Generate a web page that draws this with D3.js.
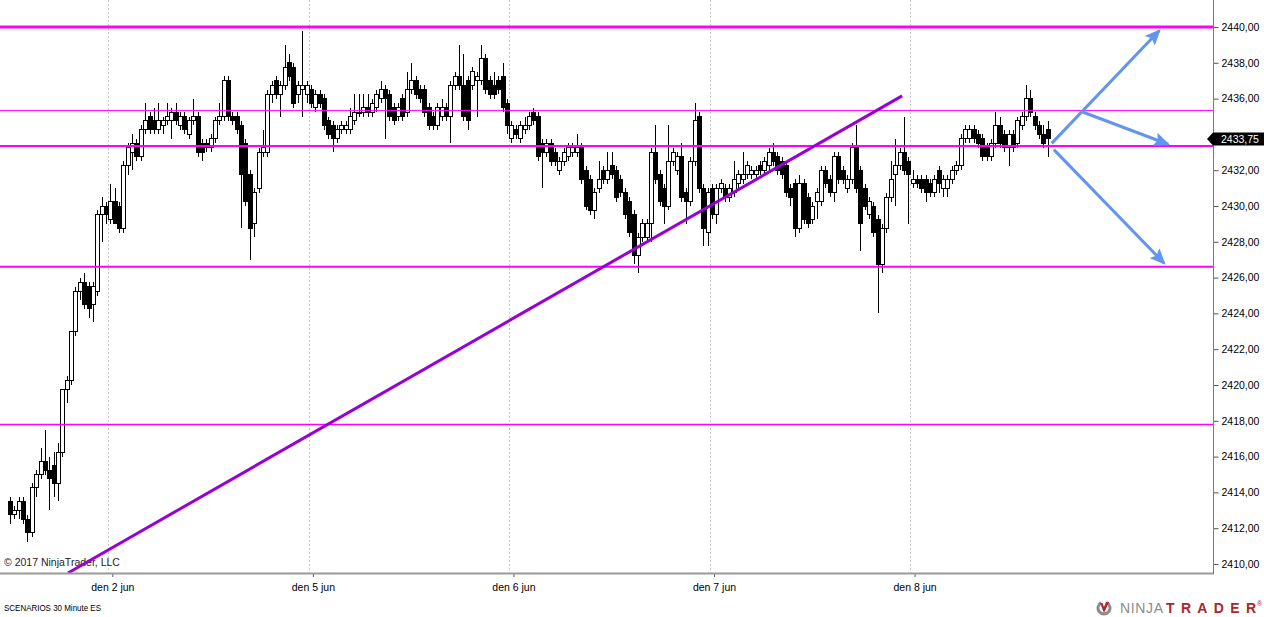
<!DOCTYPE html>
<html>
<head>
<meta charset="utf-8">
<script src="https://cdn.jsdelivr.net/npm/d3@7"></script>
<style>
  body { margin: 0; background: #fff; }
  svg { display: block; }
</style>
</head>
<body>
<svg id="chart" width="1264" height="617"></svg>
<script>

// 30 minute ES bars (bar index = position from the left)
var barOpen = [
  2413.5, 2412.75, 2413.0, 2413.5, 2412.5, 2411.75, 2414.25, 2415.0, 2415.75, 2415.25,
  2415.5, 2414.5, 2416.25, 2419.75, 2420.25, 2423.0, 2425.25, 2425.75, 2425.5, 2424.5,
  2425.25, 2429.5, 2430.0, 2429.25, 2430.25, 2430.0, 2428.75, 2432.25, 2433.0, 2433.5,
  2432.75, 2434.25, 2435.0, 2434.75, 2434.25, 2434.5, 2434.75, 2434.75, 2435.25, 2434.5,
  2435.0, 2434.0, 2434.75, 2435.0, 2433.5, 2433.5, 2433.25, 2433.75, 2434.75, 2435.0,
  2437.0, 2435.0, 2435.0, 2434.5, 2433.5, 2431.75, 2429.0, 2431.0, 2433.0, 2433.0,
  2436.25, 2437.0, 2436.25, 2436.75, 2438.0, 2437.75, 2436.25, 2436.5, 2436.25, 2436.5,
  2435.5, 2436.25, 2436.0, 2434.75, 2434.5, 2433.75, 2434.25, 2434.25, 2434.25, 2434.75,
  2435.25, 2435.25, 2435.5, 2435.25, 2435.5, 2436.0, 2436.5, 2436.25, 2435.5, 2435.0,
  2436.0, 2435.25, 2436.5, 2437.0, 2436.5, 2436.5, 2435.5, 2435.0, 2434.5, 2435.0,
  2435.5, 2435.0, 2436.75, 2437.25, 2436.75, 2437.0, 2436.75, 2437.0, 2437.0, 2438.25,
  2437.0, 2436.75, 2437.0, 2437.25, 2435.75, 2433.75, 2434.25, 2433.75, 2434.25, 2434.5,
  2435.25, 2435.0, 2433.5, 2433.0, 2433.5, 2433.0, 2432.0, 2432.5, 2432.75, 2433.0,
  2433.0, 2433.25, 2432.0, 2431.5, 2429.75, 2431.0, 2432.0, 2431.5, 2432.25, 2432.0,
  2431.5, 2430.75, 2430.25, 2429.5, 2427.25, 2428.25, 2428.25, 2429.0, 2433.0, 2431.75,
  2431.0, 2430.0, 2432.5, 2432.0, 2432.75, 2430.75, 2430.25, 2432.5, 2435.0, 2431.0,
  2428.5, 2431.0, 2429.5, 2431.0, 2431.0, 2430.5, 2430.75, 2431.25, 2431.5, 2431.75,
  2431.75, 2431.75, 2432.25, 2432.0, 2432.25, 2433.0, 2432.75, 2432.5, 2432.25, 2431.0,
  2431.25, 2428.75, 2431.25, 2430.5, 2429.25, 2430.25, 2430.25, 2432.0, 2431.5, 2430.75,
  2432.75, 2432.0, 2431.0, 2431.5, 2433.25, 2432.0, 2431.0, 2429.5, 2430.0, 2429.25,
  2426.75, 2428.75, 2430.5, 2431.75, 2432.25, 2433.0, 2432.5, 2431.25, 2431.5, 2431.5,
  2431.5, 2431.25, 2430.75, 2432.0, 2431.0, 2431.0, 2431.5, 2432.0, 2432.25, 2433.75,
  2433.75, 2434.25, 2434.0, 2433.75, 2433.25, 2432.75, 2433.5, 2434.5, 2434.0, 2433.25,
  2434.0, 2433.5, 2434.5, 2435.0, 2436.0, 2435.0, 2434.5, 2434.0, 2434.25
];
var barHigh = [
  2413.75, 2413.25, 2413.75, 2413.75, 2412.75, 2414.5, 2415.25, 2416.5, 2417.5, 2416.0,
  2416.25, 2416.75, 2419.75, 2420.5, 2423.0, 2425.5, 2426.0, 2426.25, 2425.75, 2425.75,
  2429.75, 2430.5, 2430.25, 2431.25, 2431.0, 2430.25, 2432.5, 2433.5, 2434.0, 2433.75,
  2434.5, 2435.75, 2435.25, 2435.5, 2435.75, 2435.0, 2435.75, 2435.5, 2435.75, 2435.25,
  2435.25, 2435.0, 2436.0, 2435.25, 2433.75, 2433.75, 2434.0, 2435.0, 2435.75, 2437.25,
  2437.25, 2435.25, 2435.25, 2434.75, 2433.75, 2432.0, 2431.0, 2433.25, 2434.25, 2436.5,
  2437.0, 2437.25, 2437.0, 2439.0, 2438.5, 2438.0, 2437.0, 2439.75, 2437.0, 2436.75,
  2436.5, 2436.5, 2436.25, 2435.0, 2434.75, 2434.5, 2434.75, 2434.75, 2435.5, 2436.25,
  2436.25, 2436.25, 2436.25, 2436.0, 2436.5, 2437.0, 2436.75, 2436.5, 2435.75, 2435.75,
  2436.25, 2437.5, 2438.0, 2437.25, 2436.75, 2436.75, 2435.75, 2435.25, 2435.75, 2436.0,
  2435.75, 2437.0, 2437.5, 2439.0, 2438.5, 2437.25, 2437.75, 2437.5, 2439.0, 2438.5,
  2437.25, 2437.5, 2437.25, 2438.0, 2436.0, 2434.75, 2434.5, 2434.75, 2435.0, 2435.25,
  2435.5, 2435.25, 2433.75, 2433.75, 2433.75, 2433.25, 2432.75, 2433.25, 2433.5, 2433.5,
  2434.0, 2433.5, 2432.25, 2431.75, 2431.0, 2432.5, 2432.25, 2433.0, 2433.0, 2432.25,
  2431.75, 2431.0, 2430.5, 2429.75, 2428.5, 2429.25, 2429.25, 2433.25, 2434.5, 2432.0,
  2431.25, 2434.5, 2433.25, 2433.0, 2433.5, 2431.0, 2432.75, 2435.75, 2435.25, 2431.25,
  2431.0, 2431.25, 2431.25, 2431.5, 2431.25, 2431.25, 2432.5, 2432.0, 2433.0, 2432.5,
  2432.25, 2432.25, 2432.5, 2432.75, 2433.25, 2433.5, 2433.0, 2432.75, 2432.5, 2431.25,
  2431.5, 2431.75, 2431.5, 2430.75, 2430.25, 2431.0, 2432.25, 2432.25, 2431.75, 2433.0,
  2433.0, 2432.25, 2431.75, 2433.5, 2434.5, 2432.25, 2431.25, 2430.5, 2430.25, 2429.5,
  2429.0, 2430.75, 2432.5, 2433.75, 2433.25, 2435.0, 2432.75, 2432.0, 2431.75, 2431.75,
  2431.75, 2431.5, 2431.75, 2432.25, 2431.75, 2431.75, 2432.25, 2432.5, 2434.0, 2434.5,
  2434.5, 2434.5, 2434.25, 2434.0, 2433.5, 2433.75, 2435.25, 2435.0, 2434.25, 2434.25,
  2434.25, 2435.0, 2435.25, 2436.75, 2436.5, 2435.25, 2434.75, 2434.5, 2434.75
];
var barLow = [
  2412.25, 2412.5, 2412.5, 2412.25, 2411.25, 2411.5, 2413.75, 2414.75, 2415.0, 2413.0,
  2413.75, 2413.5, 2416.0, 2419.0, 2420.0, 2422.75, 2424.75, 2424.25, 2423.75, 2423.5,
  2425.0, 2428.0, 2429.0, 2429.0, 2429.0, 2428.5, 2428.5, 2431.75, 2432.0, 2432.5,
  2432.5, 2434.0, 2434.0, 2434.0, 2434.0, 2434.0, 2434.5, 2433.75, 2434.5, 2434.25,
  2434.0, 2433.75, 2434.5, 2432.75, 2432.5, 2433.0, 2433.0, 2433.5, 2434.5, 2434.75,
  2434.75, 2434.5, 2434.0, 2428.75, 2430.0, 2427.0, 2428.25, 2430.75, 2432.75, 2432.75,
  2435.75, 2436.0, 2435.0, 2436.5, 2437.0, 2435.5, 2435.75, 2435.0, 2435.75, 2435.5,
  2435.25, 2435.5, 2434.25, 2433.75, 2433.0, 2433.5, 2434.0, 2434.0, 2434.0, 2434.5,
  2435.0, 2435.0, 2435.0, 2435.0, 2435.25, 2435.75, 2433.75, 2434.75, 2434.5, 2434.75,
  2434.75, 2435.0, 2436.25, 2436.0, 2435.75, 2435.0, 2434.25, 2434.25, 2434.25, 2434.75,
  2434.75, 2433.5, 2436.5, 2436.5, 2434.75, 2434.25, 2436.5, 2435.0, 2436.75, 2436.25,
  2436.0, 2436.0, 2436.25, 2435.25, 2434.0, 2433.5, 2433.75, 2433.5, 2434.0, 2434.25,
  2434.5, 2432.5, 2431.0, 2432.75, 2432.25, 2432.25, 2431.75, 2432.25, 2432.5, 2432.75,
  2432.75, 2431.25, 2429.75, 2429.5, 2429.25, 2430.75, 2431.25, 2431.25, 2431.5, 2430.25,
  2430.5, 2429.25, 2428.25, 2426.75, 2426.25, 2428.0, 2428.0, 2428.0, 2431.25, 2430.0,
  2429.0, 2429.75, 2432.25, 2431.75, 2430.25, 2429.0, 2430.0, 2432.25, 2430.75, 2427.75,
  2427.75, 2429.25, 2429.0, 2430.75, 2430.25, 2430.25, 2430.5, 2431.0, 2431.25, 2431.5,
  2431.5, 2431.5, 2431.75, 2431.75, 2432.0, 2432.25, 2431.75, 2431.5, 2430.5, 2430.0,
  2428.25, 2428.5, 2429.0, 2428.75, 2429.0, 2429.25, 2430.0, 2431.0, 2430.5, 2430.25,
  2431.25, 2431.25, 2430.75, 2431.25, 2430.75, 2427.5, 2429.75, 2429.25, 2428.25, 2424.0,
  2426.25, 2428.5, 2430.25, 2430.0, 2432.0, 2431.75, 2429.0, 2431.0, 2431.0, 2430.75,
  2430.25, 2430.5, 2430.5, 2430.75, 2430.5, 2430.5, 2431.25, 2431.75, 2432.0, 2433.5,
  2433.5, 2433.5, 2433.25, 2432.5, 2432.5, 2432.5, 2433.25, 2433.25, 2433.0, 2432.25,
  2433.0, 2433.25, 2434.25, 2434.75, 2435.0, 2434.25, 2433.75, 2433.25, 2432.75
];
var barClose = [
  2412.75, 2413.0, 2413.5, 2412.5, 2411.75, 2414.25, 2415.0, 2415.75, 2415.25, 2414.75,
  2414.5, 2416.25, 2419.75, 2420.25, 2423.0, 2425.25, 2425.75, 2424.5, 2424.25, 2425.5,
  2429.5, 2430.0, 2429.5, 2430.25, 2429.0, 2428.75, 2432.25, 2433.25, 2433.5, 2432.75,
  2434.25, 2434.75, 2434.25, 2434.25, 2434.75, 2434.75, 2435.0, 2435.25, 2434.75, 2435.0,
  2434.25, 2434.75, 2435.0, 2433.0, 2433.0, 2433.25, 2433.75, 2434.75, 2435.0, 2437.0,
  2435.0, 2434.75, 2434.25, 2431.75, 2430.25, 2428.75, 2430.75, 2433.0, 2433.25, 2436.25,
  2436.75, 2436.25, 2436.75, 2437.75, 2437.25, 2435.75, 2436.75, 2436.75, 2436.75, 2435.75,
  2436.25, 2435.75, 2434.5, 2434.0, 2433.75, 2434.25, 2434.5, 2434.5, 2435.0, 2435.25,
  2435.25, 2435.5, 2435.25, 2435.75, 2436.25, 2436.5, 2436.0, 2435.0, 2434.75, 2435.5,
  2435.0, 2436.5, 2437.0, 2436.25, 2436.0, 2435.25, 2434.5, 2434.5, 2435.5, 2435.5,
  2435.0, 2436.75, 2437.25, 2436.75, 2435.0, 2434.75, 2437.5, 2437.25, 2438.25, 2436.5,
  2436.25, 2436.25, 2436.5, 2435.5, 2434.5, 2434.5, 2434.0, 2434.5, 2434.5, 2435.0,
  2434.75, 2432.75, 2433.0, 2433.5, 2432.5, 2432.5, 2432.5, 2433.0, 2433.25, 2433.25,
  2433.25, 2431.5, 2430.0, 2429.75, 2430.75, 2431.5, 2431.5, 2432.0, 2431.75, 2430.5,
  2430.75, 2429.5, 2428.5, 2427.25, 2428.25, 2429.0, 2429.0, 2433.0, 2431.5, 2430.25,
  2430.0, 2432.5, 2433.0, 2432.75, 2430.5, 2430.25, 2432.5, 2434.75, 2431.0, 2428.75,
  2430.75, 2429.5, 2431.0, 2431.25, 2430.5, 2431.0, 2431.5, 2431.75, 2431.75, 2432.25,
  2432.0, 2432.0, 2432.0, 2432.5, 2433.0, 2432.5, 2432.0, 2431.75, 2430.75, 2430.5,
  2428.75, 2431.25, 2429.25, 2429.0, 2430.0, 2430.75, 2432.0, 2431.25, 2430.75, 2432.75,
  2431.5, 2431.5, 2431.5, 2433.25, 2431.0, 2429.0, 2430.0, 2430.25, 2428.5, 2426.75,
  2428.75, 2430.5, 2431.5, 2432.25, 2433.0, 2432.0, 2431.75, 2431.5, 2431.25, 2431.0,
  2430.75, 2430.75, 2431.5, 2431.25, 2431.5, 2431.5, 2432.0, 2432.25, 2433.75, 2434.25,
  2434.25, 2433.75, 2433.5, 2432.75, 2432.75, 2433.5, 2434.5, 2433.5, 2433.25, 2434.0,
  2433.25, 2434.75, 2435.0, 2436.0, 2435.25, 2434.5, 2434.0, 2433.5, 2433.75
];

// session days: label and index of the first bar after midnight
var dayLabels = ["den 2 jun", "den 5 jun", "den 6 jun", "den 7 jun", "den 8 jun"];
var dayFirstBar = [23, 69, 115, 161, 207];

var priceTicks = [2410, 2412, 2414, 2416, 2418, 2420, 2422, 2424, 2426, 2428,
                  2430, 2432, 2434, 2436, 2438, 2440];

// drawn objects: horizontal levels, trend line, scenario arrows ([bar, price])
var levelPrices = [2440.0, 2435.33, 2433.35, 2426.6, 2417.8];
var trendLine = [[13.3, 2409.5], [204.6, 2436.15]];
var arrowLines = [
  [[238.9, 2433.5], [263.6, 2439.8]],
  [[246.0, 2435.25], [265.6, 2433.45]],
  [[239.4, 2433.15], [264.7, 2426.8]]
];
var lastPrice = 2433.75;

// ---------------------------------------------------------------

var svg = d3.select("#chart");
var W = 1213, H = 573;         // right price axis / bottom time axis
var font = "'Liberation Sans', Arial, sans-serif";

var levelWidth = [3, 1, 2, 2, 1.5];

var x = d3.scaleLinear().domain([-2.3, 275.9]).range([0, W]);
var y = d3.scaleLinear().domain([2410, 2440]).range([564, 27]);

svg.append("rect").attr("width", 1264).attr("height", 617).attr("fill", "#fff");

svg.append("defs").append("clipPath").attr("id", "plot")
  .append("rect").attr("x", 0).attr("y", 0).attr("width", W).attr("height", H);

// vertical day separators
svg.append("g").selectAll("line").data(dayFirstBar).enter().append("line")
  .attr("x1", function(d) { return Math.round(x(d - 0.5)) + 0.5; })
  .attr("x2", function(d) { return Math.round(x(d - 0.5)) + 0.5; })
  .attr("y1", 0).attr("y2", H)
  .attr("stroke", "#c8c8c8").attr("stroke-dasharray", "2,2");

// copyright sits under the drawings
svg.append("text").attr("x", 4).attr("y", 566)
  .attr("font-family", font).attr("font-size", "10.5px").attr("fill", "#222")
  .text("\u00a9 2017 NinjaTrader, LLC");

// candles
var bars = d3.range(barClose.length);
var candles = svg.append("g").attr("clip-path", "url(#plot)")
  .attr("shape-rendering", "crispEdges");

candles.selectAll("line").data(bars).enter().append("line")
  .attr("x1", function(i) { return Math.round(x(i)) + 0.5; })
  .attr("x2", function(i) { return Math.round(x(i)) + 0.5; })
  .attr("y1", function(i) { return y(barHigh[i]); })
  .attr("y2", function(i) { return y(barLow[i]); })
  .attr("stroke", "#000").attr("stroke-width", 1);

candles.selectAll("rect").data(bars).enter().append("rect")
  .attr("x", function(i) { return Math.round(x(i)) - 1.5; })
  .attr("width", 4)
  .attr("y", function(i) { return y(Math.max(barOpen[i], barClose[i])); })
  .attr("height", function(i) {
    return Math.max(1, Math.abs(y(barOpen[i]) - y(barClose[i])));
  })
  .attr("fill", function(i) { return barClose[i] >= barOpen[i] ? "#fff" : "#000"; })
  .attr("stroke", "#000").attr("stroke-width", 1);

// horizontal levels
var draw = svg.append("g").attr("clip-path", "url(#plot)");

draw.selectAll("line.level").data(levelPrices).enter().append("line")
  .attr("class", "level")
  .attr("x1", 0).attr("x2", W)
  .attr("y1", function(d) { return y(d); })
  .attr("y2", function(d) { return y(d); })
  .attr("stroke", "#ff00ff")
  .attr("stroke-width", function(d, i) { return levelWidth[i]; });

// trend line
draw.append("line")
  .attr("x1", x(trendLine[0][0])).attr("y1", y(trendLine[0][1]))
  .attr("x2", x(trendLine[1][0])).attr("y2", y(trendLine[1][1]))
  .attr("stroke", "#9900d6").attr("stroke-width", 3);

// scenario arrows
svg.select("defs").append("marker")
  .attr("id", "head").attr("markerUnits", "userSpaceOnUse")
  .attr("viewBox", "0 0 16 14").attr("refX", 14).attr("refY", 7)
  .attr("markerWidth", 16).attr("markerHeight", 14).attr("orient", "auto")
  .append("path").attr("d", "M0,0 L16,7 L0,14 L3,7 Z").attr("fill", "#6495ed");

draw.selectAll("line.arrow").data(arrowLines).enter().append("line")
  .attr("class", "arrow")
  .attr("x1", function(d) { return x(d[0][0]); })
  .attr("y1", function(d) { return y(d[0][1]); })
  .attr("x2", function(d) { return x(d[1][0]); })
  .attr("y2", function(d) { return y(d[1][1]); })
  .attr("stroke", "#6495ed").attr("stroke-width", 3)
  .attr("marker-end", "url(#head)");

// price axis
var py = Math.round(y(lastPrice));
var yAxis = d3.axisRight(y).tickValues(priceTicks).tickSize(5).tickPadding(3)
  .tickFormat(function(d) { return d3.format(".2f")(d).replace(".", ","); });

var ya = svg.append("g").attr("transform", "translate(" + (W + 0.5) + ",0)").call(yAxis);
ya.select(".domain").remove();
ya.selectAll("line").attr("stroke", "#555");
ya.selectAll("text").attr("font-family", font).attr("font-size", "10.5px").attr("fill", "#000");
// the label under the last-price marker is hidden by it
ya.selectAll(".tick").filter(function(d) { return Math.abs(y(d) - py) < 9; })
  .select("text").remove();

// time axis
var xAxis = d3.axisBottom(x).tickValues(dayFirstBar).tickSize(4).tickPadding(7)
  .tickFormat(function(d, i) { return dayLabels[i]; });

var xa = svg.append("g").attr("transform", "translate(2," + H + ")").call(xAxis);
xa.select(".domain").remove();
xa.selectAll("line").attr("stroke", "#555");
xa.selectAll("text").attr("font-family", font).attr("font-size", "10.5px").attr("fill", "#000");

// axis frame
svg.append("line").attr("x1", 0).attr("x2", W + 1).attr("y1", H + 0.5).attr("y2", H + 0.5)
  .attr("stroke", "#9a9a9a").attr("stroke-width", 2);
svg.append("line").attr("x1", W + 0.5).attr("x2", W + 0.5).attr("y1", 0).attr("y2", H + 1)
  .attr("stroke", "#7a7a7a").attr("stroke-width", 1);

// last price marker
svg.append("path")
  .attr("d", "M" + (W - 6) + "," + py + " L" + W + "," + (py - 6.5) + " L1264," + (py - 6.5) +
             " L1264," + (py + 6.5) + " L" + W + "," + (py + 6.5) + " Z")
  .attr("fill", "#000");
svg.append("text").attr("x", W + 8).attr("y", py + 4)
  .attr("font-family", font).attr("font-size", "10.5px").attr("fill", "#fff")
  .text(d3.format(".2f")(lastPrice).replace(".", ","));

// footer
svg.append("text").attr("x", 4).attr("y", 611)
  .attr("font-family", font).attr("font-size", "9px").attr("fill", "#000")
  .attr("textLength", 97).attr("lengthAdjust", "spacingAndGlyphs")
  .text("SCENARIOS 30 Minute ES");

var logo = svg.append("g").attr("transform", "translate(1104,608)");
logo.append("path").attr("d", d3.arc()({ innerRadius: 4.5, outerRadius: 7.5,
    startAngle: Math.PI * 0.15, endAngle: Math.PI * 1.85 }))
  .attr("fill", "#8c8c8c");
logo.append("path").attr("d", "M-4,-5 L0,5 L5,-6 L2,-6 L0,-1 L-1.5,-5 Z").attr("fill", "#b3262a");

svg.append("text").attr("x", 1120).attr("y", 613)
  .attr("font-family", font).attr("font-size", "14px").attr("fill", "#8c8c8c")
  .attr("textLength", 43).attr("lengthAdjust", "spacing").text("NINJA");
svg.append("text").attr("x", 1166).attr("y", 613)
  .attr("font-family", font).attr("font-size", "14px").attr("font-weight", "bold").attr("fill", "#a8282c")
  .attr("textLength", 90).attr("lengthAdjust", "spacing").text("TRADER");
svg.append("text").attr("x", 1257).attr("y", 606)
  .attr("font-family", font).attr("font-size", "7px").attr("fill", "#a8282c").text("\u00ae");

</script>
</body>
</html>
